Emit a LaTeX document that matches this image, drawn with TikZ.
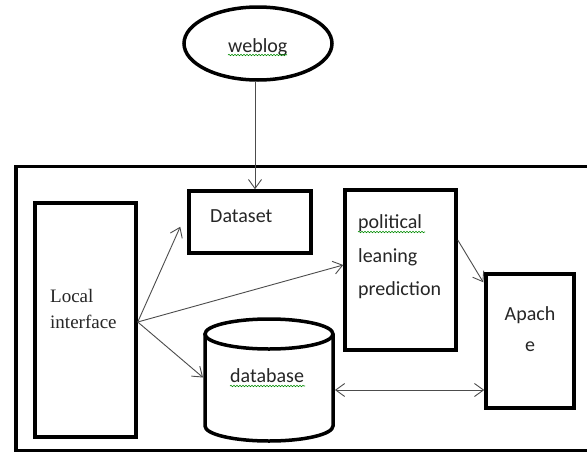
\documentclass[tikz,border=0pt]{standalone}
\usepackage{fontspec}
\setmainfont{Carlito}
\newfontfamily\timesfont{Liberation Serif}
\usetikzlibrary{arrows.meta,decorations.pathmorphing,shapes.geometric,calc}
\begin{document}
\begin{tikzpicture}[x=1pt,y=-1pt,
  thickbox/.style={draw=black, line width=3.5pt, rectangle, inner sep=0pt},
  flow/.style={draw=black!70, line width=0.9pt, -{Straight Barb[length=9pt,width=13pt]}},
  lbl/.style={anchor=base west, inner sep=0pt, font=\fontsize{20}{24}\selectfont, text=black!85},
  serlbl/.style={anchor=base west, inner sep=0pt, font=\timesfont\fontsize{19}{23}\selectfont, text=black!85},
  squiggle/.style={draw=green!55!black, line width=0.6pt, decorate,
    decoration={snake, segment length=3pt, amplitude=0.7pt}}]
\clip (0,0) rectangle (587,453);
\fill[white] (0,0) rectangle (587,453);

% outer frame, open to the right
\draw[line width=3.5pt] (600,166.5) -- (16,166.5) -- (16,450.5) -- (600,450.5);

% source
\node[thickbox, ellipse, minimum width=148, minimum height=73] (weblog) at (258,43.5) {};
\node[lbl] (weblogtxt) at (228,52) {weblog};
\draw[squiggle] (228,55) -- (287,55);

% boxes
\node[thickbox, minimum width=101, minimum height=234] (loc) at (85.5,320) {};
\node[serlbl] (loctxt1) at (50,302) {Local};
\node[serlbl] (loctxt2) at (50,328) {interface};

\node[thickbox, minimum width=122, minimum height=62] (ds) at (250,222) {};
\node[lbl] (dstxt) at (210,222) {Dataset};

\node[thickbox, minimum width=111, minimum height=160] (pol) at (400.5,270) {};
\node[lbl] (poltxt1) at (358,228) {political};
\node[lbl] (poltxt2) at (358,262) {leaning};
\node[lbl] (poltxt3) at (358,295) {prediction};
\draw[squiggle] (358,232) -- (425,232);

\node[thickbox, minimum width=88, minimum height=134] (ap) at (530,341) {};
\node[lbl, anchor=base] (aptxt1) at (530,320) {Apach};
\node[lbl, anchor=base] (aptxt2) at (530,351) {e};

% database cylinder
\node[inner sep=0pt, minimum width=131.5, minimum height=125] (db) at (269,380.5) {};
\draw[line width=3.5pt] (205,334) -- (205,426)
  arc[start angle=180, end angle=0, x radius=64, y radius=15] -- (333,334);
\draw[line width=3.5pt] (269,334) ellipse [x radius=64, y radius=15];
\node[lbl] (dbtxt) at (230,382) {database};
\draw[squiggle] (230,386) -- (305,386);

% connectors
\draw[flow] ([xshift=-3pt]weblog.south) -- ([xshift=-3pt]weblog.south |- ds.north);
\draw[flow] ([yshift=-2pt]loc.east) -- ($(ds.south west)+(-7,-28)$);
\draw[flow] ([yshift=-2pt]loc.east) -- ([yshift=5pt]pol.west);
\draw[flow] ([yshift=-2pt]loc.east) -- ([yshift=3pt]db.west);
\draw[flow] ([yshift=30pt]pol.east) -- ([yshift=-10pt,xshift=-1pt]ap.north west);
\draw[flow, {Straight Barb[length=9pt,width=13pt]}-{Straight Barb[length=9pt,width=13pt]}]
  ([yshift=-9.5pt]db.east) -- ([yshift=-9.5pt]db.east -| ap.west);
\end{tikzpicture}
\end{document}
